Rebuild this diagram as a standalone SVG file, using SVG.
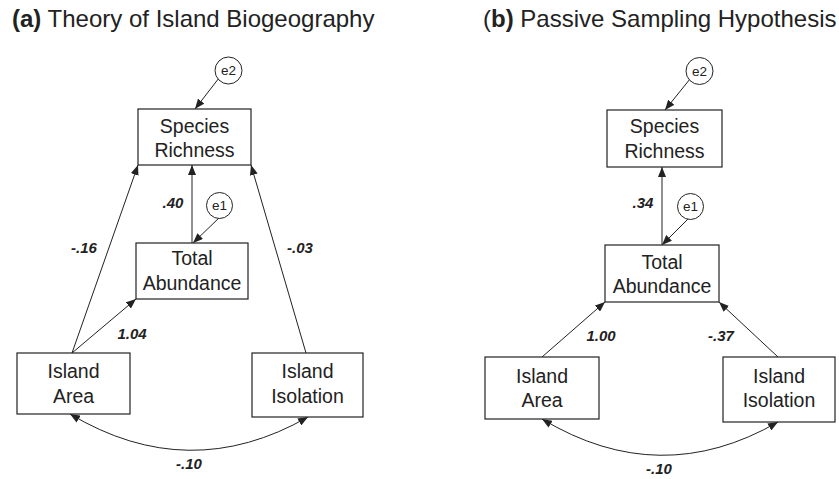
<svg xmlns="http://www.w3.org/2000/svg" width="839" height="479" viewBox="0 0 839 479">
<style>
.box{fill:#fff;stroke:#222;stroke-width:1.2}
.err{fill:#fff;stroke:#222;stroke-width:1}
.t{font-family:"Liberation Sans",Arial,sans-serif;font-size:19.5px;fill:#222;text-anchor:middle}
.e{font-family:"Liberation Sans",Arial,sans-serif;font-size:13.5px;fill:#222;text-anchor:middle}
.lab{font-family:"Liberation Sans",Arial,sans-serif;font-size:15px;font-weight:bold;font-style:italic;fill:#222;text-anchor:middle}
.title{font-family:"Liberation Sans",Arial,sans-serif;font-size:24px;fill:#222}
.c{fill:none;stroke:#222;stroke-width:1;marker-end:url(#ah)}
.cc{fill:none;stroke:#222;stroke-width:1;marker-start:url(#ah);marker-end:url(#ah)}
</style>
<defs>
<marker id="ah" viewBox="0 0 10 8" refX="10" refY="4" markerWidth="10" markerHeight="8" markerUnits="userSpaceOnUse" orient="auto-start-reverse">
<path d="M0,0 L10,4 L0,8 Z" fill="#222"/>
</marker>
</defs>
<rect width="839" height="479" fill="#fff"/>
<text class="title" x="12" y="26.5"><tspan font-weight="bold">(a)</tspan> Theory of Island Biogeography</text>
<text class="title" x="483" y="26.5">(<tspan font-weight="bold">b)</tspan> Passive Sampling Hypothesis</text>

<g id="connectors">
<!-- panel a -->
<line class="c" x1="219" y1="78" x2="195" y2="109"/>
<line class="c" x1="220" y1="217" x2="193" y2="243"/>
<line class="c" x1="192" y1="243" x2="192" y2="165"/>
<line class="c" x1="72" y1="353" x2="138" y2="165"/>
<line class="c" x1="72" y1="353" x2="136" y2="299"/>
<line class="c" x1="306" y1="353" x2="251" y2="165"/>
<path class="cc" d="M70,414 Q189,485 308,417"/>
<!-- panel b -->
<line class="c" x1="690" y1="79" x2="665" y2="110"/>
<line class="c" x1="689" y1="218" x2="662" y2="245"/>
<line class="c" x1="662" y1="245" x2="662" y2="167"/>
<line class="c" x1="542" y1="357" x2="605" y2="302"/>
<line class="c" x1="778" y1="357" x2="719" y2="302"/>
<path class="cc" d="M542,419 Q660,490 778,422"/>
</g>

<g id="labels">
<text class="lab" x="173" y="208">.40</text>
<text class="lab" x="84" y="253">-.16</text>
<text class="lab" x="300" y="253">-.03</text>
<text class="lab" x="132" y="339">1.04</text>
<text class="lab" x="189" y="469">-.10</text>
<text class="lab" x="643" y="208">.34</text>
<text class="lab" x="601" y="341">1.00</text>
<text class="lab" x="721" y="341">-.37</text>
<text class="lab" x="659" y="474">-.10</text>
</g>

<g id="a-e2"><circle class="err" cx="228.5" cy="70.5" r="13.5"/><text class="e" x="228.5" y="75">e2</text></g>
<g id="a-species"><rect class="box" x="138" y="109" width="113" height="56"/><text class="t" x="194.5" y="132.5">Species</text><text class="t" x="194.5" y="157">Richness</text></g>
<g id="a-e1"><circle class="err" cx="219.5" cy="205.5" r="13"/><text class="e" x="219.5" y="210">e1</text></g>
<g id="a-abund"><rect class="box" x="136" y="243" width="112" height="56"/><text class="t" x="192" y="264.5">Total</text><text class="t" x="192" y="289.5">Abundance</text></g>
<g id="a-area"><rect class="box" x="17" y="353" width="113" height="61"/><text class="t" x="73.5" y="378">Island</text><text class="t" x="73.5" y="403">Area</text></g>
<g id="a-isol"><rect class="box" x="252" y="353" width="111" height="64"/><text class="t" x="307.5" y="378">Island</text><text class="t" x="307.5" y="403">Isolation</text></g>

<g id="b-e2"><circle class="err" cx="699.5" cy="71" r="13.5"/><text class="e" x="699.5" y="75.5">e2</text></g>
<g id="b-species"><rect class="box" x="607" y="110" width="115" height="57"/><text class="t" x="664.5" y="133">Species</text><text class="t" x="664.5" y="157.5">Richness</text></g>
<g id="b-e1"><circle class="err" cx="690.5" cy="206.5" r="13"/><text class="e" x="690.5" y="211">e1</text></g>
<g id="b-abund"><rect class="box" x="605" y="245" width="114" height="57"/><text class="t" x="662" y="268.5">Total</text><text class="t" x="662" y="293">Abundance</text></g>
<g id="b-area"><rect class="box" x="485" y="357" width="114" height="62"/><text class="t" x="542" y="382.5">Island</text><text class="t" x="542" y="407">Area</text></g>
<g id="b-isol"><rect class="box" x="723" y="357" width="112" height="65"/><text class="t" x="779" y="382.5">Island</text><text class="t" x="779" y="407">Isolation</text></g>
</svg>
